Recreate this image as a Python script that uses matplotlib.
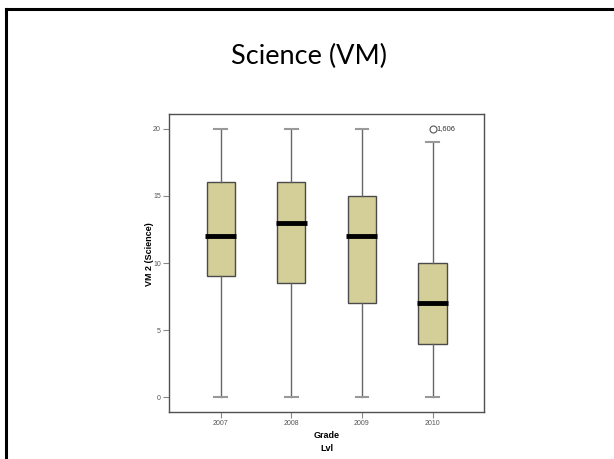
import matplotlib
matplotlib.use("Agg")
import matplotlib.pyplot as plt
from matplotlib.lines import Line2D

years = ["2007", "2008", "2009", "2010"]
whisker_low = [0, 0, 0, 0]
q1 = [9, 8.5, 7, 4]
medians = [12, 13, 12, 7]
q3 = [16, 16, 15, 10]
whisker_high = [20, 20, 20, 19]
outliers = [[], [], [], [20]]
outlier_labels = {3: "1,606"}

box_color = "#d4cf98"
edge = "#4a4a4a"

stats = []
for i, y in enumerate(years):
    stats.append({"label": y, "whislo": whisker_low[i], "q1": q1[i], "med": medians[i],
                  "q3": q3[i], "whishi": whisker_high[i], "fliers": outliers[i]})

fig = plt.figure(figsize=(6.14, 4.59), dpi=100)

# slide frame (left and top edge)
fig.add_artist(Line2D([0.0105, 0.0105], [0, 0.98], transform=fig.transFigure, color="black", lw=2.2))
fig.add_artist(Line2D([0.0105, 1.0], [0.98, 0.98], transform=fig.transFigure, color="black", lw=2.2))

fig.text(0.503, 0.876, "Science (VM)", ha="center", va="center", fontsize=19.5, family="Lato")

ax = fig.add_axes([0.2757, 0.1024, 0.5126, 0.6492])
parts = ax.bxp(stats, positions=range(1, 5), widths=0.4, patch_artist=True,
               boxprops=dict(facecolor=box_color, edgecolor=edge, linewidth=1),
               medianprops=dict(color="black", linewidth=3.5, solid_capstyle="butt"),
               whiskerprops=dict(color="#666666", linewidth=1),
               capprops=dict(color="#999999", linewidth=1.5),
               capwidths=0.18,
               flierprops=dict(marker="o", markerfacecolor="none", markeredgecolor="#555555",
                               markersize=5, markeredgewidth=0.8))

# median bar sticks out a little past the box
for i, m in enumerate(parts["medians"]):
    m.set_xdata([i + 1 - 0.22, i + 1 + 0.22])

for i, txt in outlier_labels.items():
    for v in outliers[i]:
        ax.annotate(txt, (i + 1, v), xytext=(3, 0), textcoords="offset points",
                    va="center", ha="left", fontsize=5.5, color="#333333", family="Liberation Sans")

ax.set_xlim(0.27, 4.73)
ax.set_ylim(-1.1, 21.1)
ax.set_yticks([0, 5, 10, 15, 20])
ax.set_xticks(range(1, 5))
ax.set_xticklabels(years)

for s in ax.spines.values():
    s.set_color("#505050")
    s.set_linewidth(1)

ax.tick_params(axis="both", length=4, width=0.8, color="#888888", labelsize=5,
               labelcolor="#555555", pad=2)
for lab in ax.get_xticklabels() + ax.get_yticklabels():
    lab.set_family("Liberation Sans")

ax.set_xlabel("Grade\nLvl", fontsize=6.5, fontweight="bold", family="Liberation Sans",
              linespacing=1.5)
ax.xaxis.set_label_coords(0.5, -0.065)
ax.xaxis.label.set_va("top")
ax.set_ylabel("VM 2 (Science)", fontsize=6.5, fontweight="bold", family="Liberation Sans")
ax.yaxis.set_label_coords(-0.063, 0.53)
ax.yaxis.label.set_va("center")

fig.savefig("out.png", dpi=100)
